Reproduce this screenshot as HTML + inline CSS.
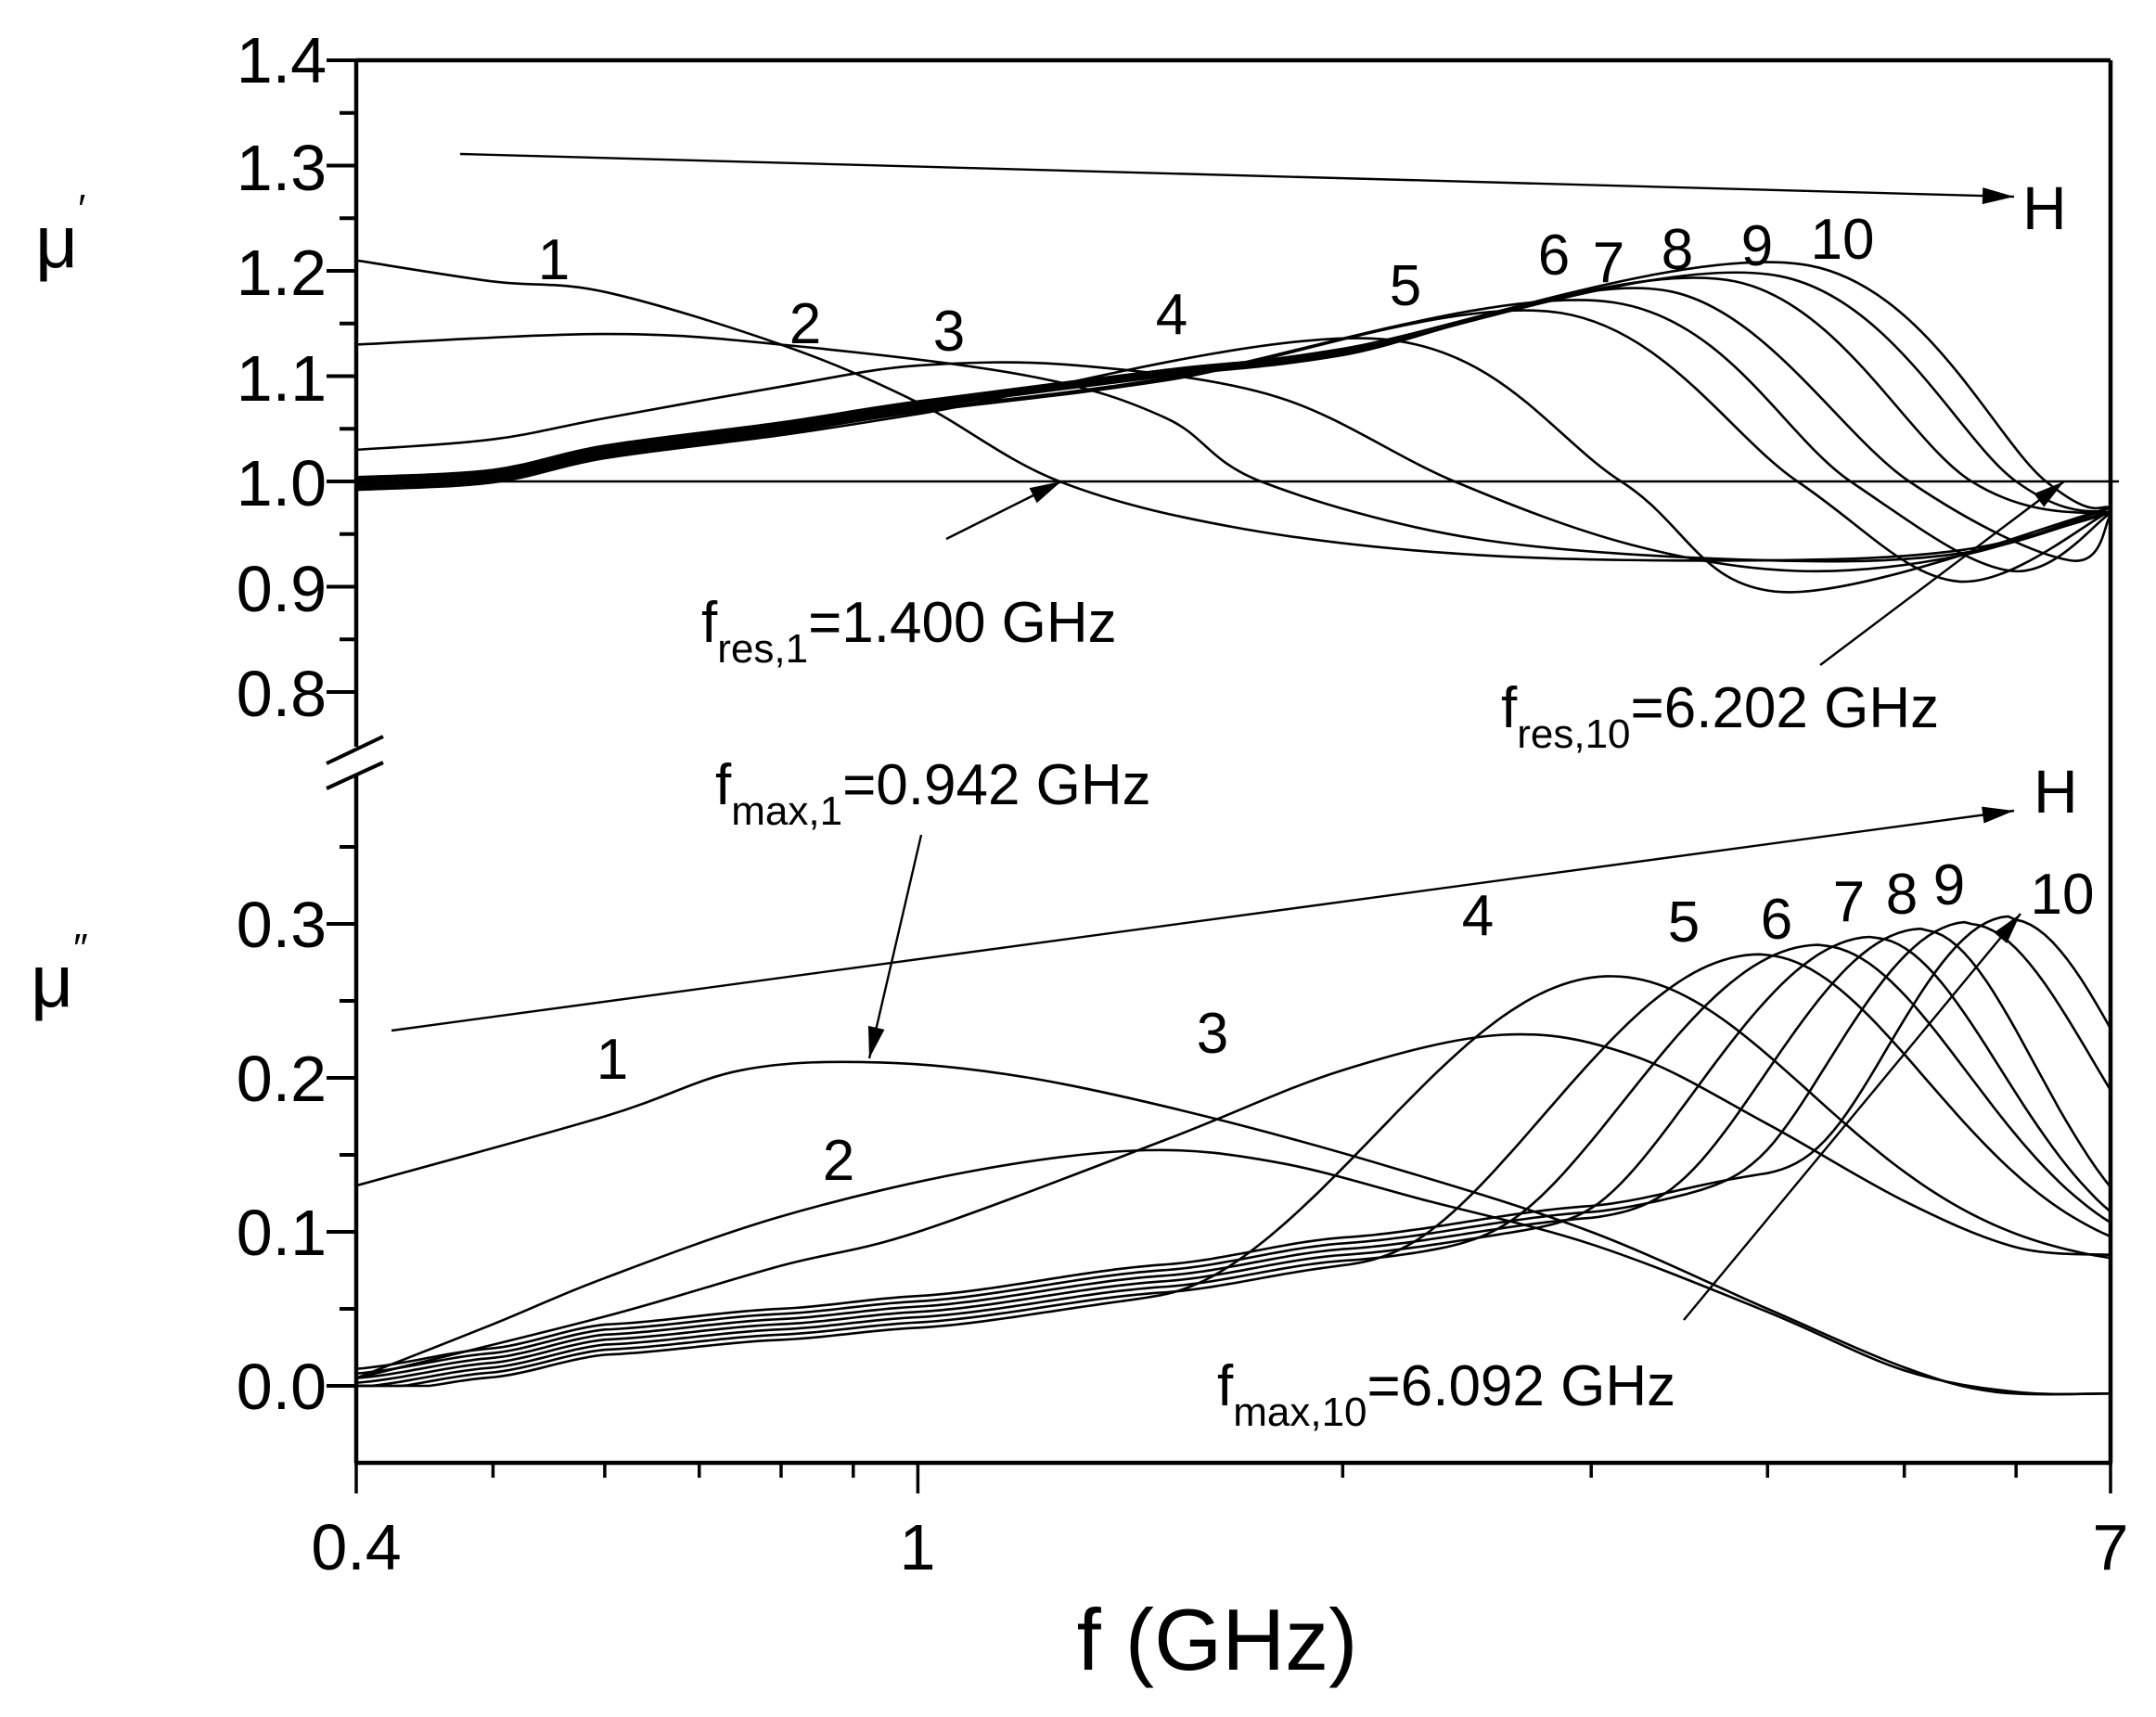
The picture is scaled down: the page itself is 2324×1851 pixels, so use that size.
<!DOCTYPE html>
<html><head><meta charset="utf-8">
<style>
html,body{margin:0;padding:0;background:#fff;}
svg{display:block;}
text{font-family:"Liberation Sans",Arial,sans-serif;fill:#000;}
</style></head>
<body>
<svg id="s" width="2324" height="1851" viewBox="0 0 2324 1851" xmlns="http://www.w3.org/2000/svg">
<g id="curves" fill="none" stroke="#000" stroke-width="2.6"></g>
<g id="axes" stroke="#000" fill="none"></g>
<g id="txt">
<g font-size="70" text-anchor="end">
<text x="352" y="89">1.4</text>
<text x="352" y="205">1.3</text>
<text x="352" y="318">1.2</text>
<text x="352" y="432">1.1</text>
<text x="352" y="545">1.0</text>
<text x="352" y="659">0.9</text>
<text x="352" y="772">0.8</text>
<text x="352" y="1021">0.3</text>
<text x="352" y="1187">0.2</text>
<text x="352" y="1353">0.1</text>
<text x="352" y="1519">0.0</text>
</g>
<g font-size="70" text-anchor="middle">
<text x="384" y="1692">0.4</text>
<text x="989" y="1692">1</text>
<text x="2275" y="1692">7</text>
</g>
<text x="1312" y="1800" font-size="94" text-anchor="middle">f (GHz)</text>
<text x="38" y="288" font-size="80">μ<tspan font-size="44" dy="-48">′</tspan></text>
<text x="33" y="1085" font-size="80">μ<tspan font-size="44" dy="-48">″</tspan></text>
<text x="2180" y="247" font-size="66">H</text>
<text x="2192" y="876" font-size="66">H</text>
<g font-size="62" text-anchor="middle">
<text x="597" y="301">1</text><text x="868" y="370">2</text><text x="1023" y="378">3</text>
<text x="1263" y="360">4</text><text x="1515" y="329">5</text><text x="1675" y="296">6</text>
<text x="1734" y="304">7</text><text x="1808" y="290">8</text><text x="1894" y="286">9</text>
<text x="1986" y="279">10</text>
<text x="660" y="1163">1</text><text x="904" y="1272">2</text><text x="1307" y="1135">3</text>
<text x="1593" y="1008">4</text><text x="1815" y="1015">5</text><text x="1915" y="1012">6</text>
<text x="1993" y="993">7</text><text x="2050" y="985">8</text><text x="2101" y="975">9</text>
<text x="2223" y="985">10</text>
</g>
<text x="756" y="692" font-size="62">f<tspan font-size="44" dy="22">res,1</tspan><tspan dy="-22">=1.400 GHz</tspan></text>
<text x="1618" y="784" font-size="62">f<tspan font-size="44" dy="22">res,10</tspan><tspan dy="-22">=6.202 GHz</tspan></text>
<text x="771" y="867" font-size="62">f<tspan font-size="44" dy="22">max,1</tspan><tspan dy="-22">=0.942 GHz</tspan></text>
<text x="1312" y="1515" font-size="62">f<tspan font-size="44" dy="22">max,10</tspan><tspan dy="-22">=6.092 GHz</tspan></text>
</g>
</svg>
<script>
(function(){
var NS="http://www.w3.org/2000/svg";
var L=384,R=2275,T=65,B=1577;
function X(f){return L+Math.log(f/0.4)/Math.log(17.5)*(R-L);}
function YU(v){return 519-(v-1)*1135;}
function YL(v){return 1494-v*1660;}
var cg=document.getElementById('curves'),ag=document.getElementById('axes');
function el(tag,attrs,parent){var e=document.createElementNS(NS,tag);for(var k in attrs)e.setAttribute(k,attrs[k]);(parent||cg).appendChild(e);return e;}
function crPath(pts){
  var d="M"+pts[0][0].toFixed(1)+","+pts[0][1].toFixed(1);
  for(var i=0;i<pts.length-1;i++){
    var p0=pts[i-1]||pts[i],p1=pts[i],p2=pts[i+1],p3=pts[i+2]||pts[i+1];
    var c1=[p1[0]+(p2[0]-p0[0])/6,p1[1]+(p2[1]-p0[1])/6];
    var c2=[p2[0]-(p3[0]-p1[0])/6,p2[1]-(p3[1]-p1[1])/6];
    d+="C"+c1[0].toFixed(1)+","+c1[1].toFixed(1)+" "+c2[0].toFixed(1)+","+c2[1].toFixed(1)+" "+p2[0].toFixed(1)+","+p2[1].toFixed(1);
  }
  return d;
}
function drawFV(fv,Y){el('path',{d:crPath(fv.map(function(p){return [X(p[0]),Y(p[1])];}))});}
function polyFV(fn,Y){var d="";for(var i=0;i<=240;i++){var u=Math.log(0.4)+i/240*Math.log(17.5);var f=Math.exp(u);d+=(i?"L":"M")+X(f).toFixed(1)+","+Y(fn(f)).toFixed(1);}el('path',{d:d});}
function interp(tab,f){if(f<=tab[0][0])return tab[0][1];for(var i=0;i<tab.length-1;i++){if(f<=tab[i+1][0]){var a=Math.log(tab[i][0]),b=Math.log(tab[i+1][0]),t=(Math.log(f)-a)/(b-a);t=t*t*(3-2*t)*0.5+t*0.5;return tab[i][1]+(tab[i+1][1]-tab[i][1])*t;}}return tab[tab.length-1][1];}

drawFV([[0.4,1.21],[0.5,1.19],[0.6,1.18],[0.8,1.13],[1.0,1.075],[1.26,1.0],[1.7,0.955],[2.5,0.93],[4,0.925],[5.5,0.935],[7,0.97]],YU);
drawFV([[0.4,1.13],[0.6,1.14],[0.8,1.13],[1.2,1.1],[1.5,1.06],[1.75,1.0],[2.5,0.945],[4,0.925],[5.5,0.932],[7,0.972]],YU);
drawFV([[0.4,1.03],[0.5,1.04],[0.6,1.06],[0.8,1.09],[1.0,1.11],[1.3,1.11],[1.8,1.08],[2.4,1.0],[3.2,0.94],[4.2,0.915],[5.5,0.93],[7,0.975]],YU);
var Bu=[[0.4,0.998],[0.5,1.005],[0.6,1.028],[0.8,1.05],[1,1.07],[1.5,1.1],[2,1.12],[3,1.15],[4,1.17],[5,1.185],[7,1.21]];
var fres=[3.15,4.2,4.58,5.04,5.58,6.0,6.3],pvu=[1.135,1.16,1.17,1.18,1.19,1.195,1.205];
var mv=[0.895,0.905,0.915,0.925,0.93,0.94,0.95],ev=[0.975,0.972,0.97,0.968,0.968,0.97,0.975];
for(var n=0;n<7;n++){
  var fp=fres[n]*0.68,pts=[];
  Bu.forEach(function(p){if(p[0]<0.6*fp)pts.push([p[0],p[1]+(n-3)*0.002]);});
  pts.push([fp,pvu[n]]);pts.push([fres[n],1.0]);
  var fm=fres[n]*1.3; if(fm<6.6)pts.push([fm,mv[n]]);
  pts.push([7,ev[n]]);
  drawFV(pts,YU);
}
el('line',{x1:L,y1:519,x2:2284,y2:519,'stroke-width':2.4});

drawFV([[0.4,0.13],[0.6,0.175],[0.75,0.205],[0.942,0.21],[1.2,0.2],[1.6,0.175],[2.2,0.14],[3,0.1],[4,0.05],[5,0.012],[5.8,-0.004],[7,-0.005]],YL);
drawFV([[0.4,0.005],[0.5,0.04],[0.6,0.07],[0.8,0.11],[1.1,0.14],[1.45,0.153],[1.8,0.145],[2.3,0.12],[3,0.092],[4,0.048],[5,0.01],[6,-0.004],[7,-0.005]],YL);
drawFV([[0.4,0.005],[0.6,0.045],[0.8,0.078],[1,0.1],[1.5,0.16],[2,0.205],[2.6,0.228],[3.2,0.215],[4,0.17],[5,0.12],[6,0.09],[7,0.085]],YL);
var Bl=[[0.4,0.002],[0.5,0.015],[0.6,0.03],[0.8,0.04],[1,0.048],[1.5,0.068],[2,0.085],[3,0.105],[4,0.125],[5,0.145],[7,0.18]];
var fmx=[3.1,3.95,4.35,4.75,5.15,5.55,5.94],pvl=[0.266,0.28,0.286,0.291,0.296,0.3,0.303],e7=[0.083,0.097,0.106,0.113,0.129,0.192,0.232];
for(var n=0;n<7;n++){
  (function(n){
    var E=0.075,d7=Math.log(7/fmx[n]);
    var ratio=Math.max((e7[n]-E)/(pvl[n]-E),0.001);
    var wr=d7/Math.sqrt(-Math.log(ratio));
    var wl=0.55-n*0.035;
    var off=(n-3)*0.003;
    polyFV(function(f){
      var d=Math.log(f/fmx[n]);
      if(d>=0)return E+(pvl[n]-E)*Math.exp(-(d/wr)*(d/wr));
      var g=pvl[n]*Math.exp(-(d/wl)*(d/wl)),b=interp(Bl,f)*(1+off*3)+off;
      return Math.pow(Math.pow(g,6)+Math.pow(Math.max(b,0),6),1/6);
    },YL);
  })(n);
}

function arrow(x1,y1,x2,y2){
  el('line',{x1:x1,y1:y1,x2:x2,y2:y2,'stroke-width':2.4});
  var a=Math.atan2(y2-y1,x2-x1),l=34,w=9;
  var bx=x2-l*Math.cos(a),by=y2-l*Math.sin(a);
  el('polygon',{points:x2+","+y2+" "+(bx-w*Math.sin(a))+","+(by+w*Math.cos(a))+" "+(bx+w*Math.sin(a))+","+(by-w*Math.cos(a)),fill:'#000',stroke:'none'});
}
arrow(496,166,2171,212);
arrow(422,1111,2171,874);
arrow(1020,581,1144,519);
arrow(1962,717,2225,519);
arrow(993,900,937,1141);
arrow(1815,1423,2178,985);

var sw=4.5;
el('line',{x1:L,y1:T,x2:R,y2:T,'stroke-width':sw},ag);
el('line',{x1:R,y1:T,x2:R,y2:B,'stroke-width':sw},ag);
el('line',{x1:L-2,y1:B,x2:R+2,y2:B,'stroke-width':sw},ag);
el('line',{x1:L,y1:T,x2:L,y2:805,'stroke-width':sw},ag);
el('line',{x1:L,y1:836,x2:L,y2:B,'stroke-width':sw},ag);
el('line',{x1:352,y1:823,x2:413,y2:794,'stroke-width':4},ag);
el('line',{x1:352,y1:850,x2:413,y2:822,'stroke-width':4},ag);
for(var v=0.8;v<=1.401;v+=0.05){var maj=Math.abs(Math.round(v*10)-v*10)<0.01;var y=YU(v);el('line',{x1:L-(maj?32:18),y1:y,x2:L,y2:y,'stroke-width':4},ag);}
for(var v=-0.05;v<=0.351;v+=0.05){var maj=Math.abs(Math.round(v*10)-v*10)<0.01;var y=YL(v);if(y>B-2)continue;el('line',{x1:L-(maj?32:18),y1:y,x2:L,y2:y,'stroke-width':4},ag);}
[0.4,1,7].forEach(function(f){el('line',{x1:X(f),y1:B,x2:X(f),y2:B+33,'stroke-width':3.5},ag);});
[0.5,0.6,0.7,0.8,0.9,2,3,4,5,6].forEach(function(f){el('line',{x1:X(f),y1:B,x2:X(f),y2:B+16,'stroke-width':3.5},ag);});
})();
</script>
</body></html>
